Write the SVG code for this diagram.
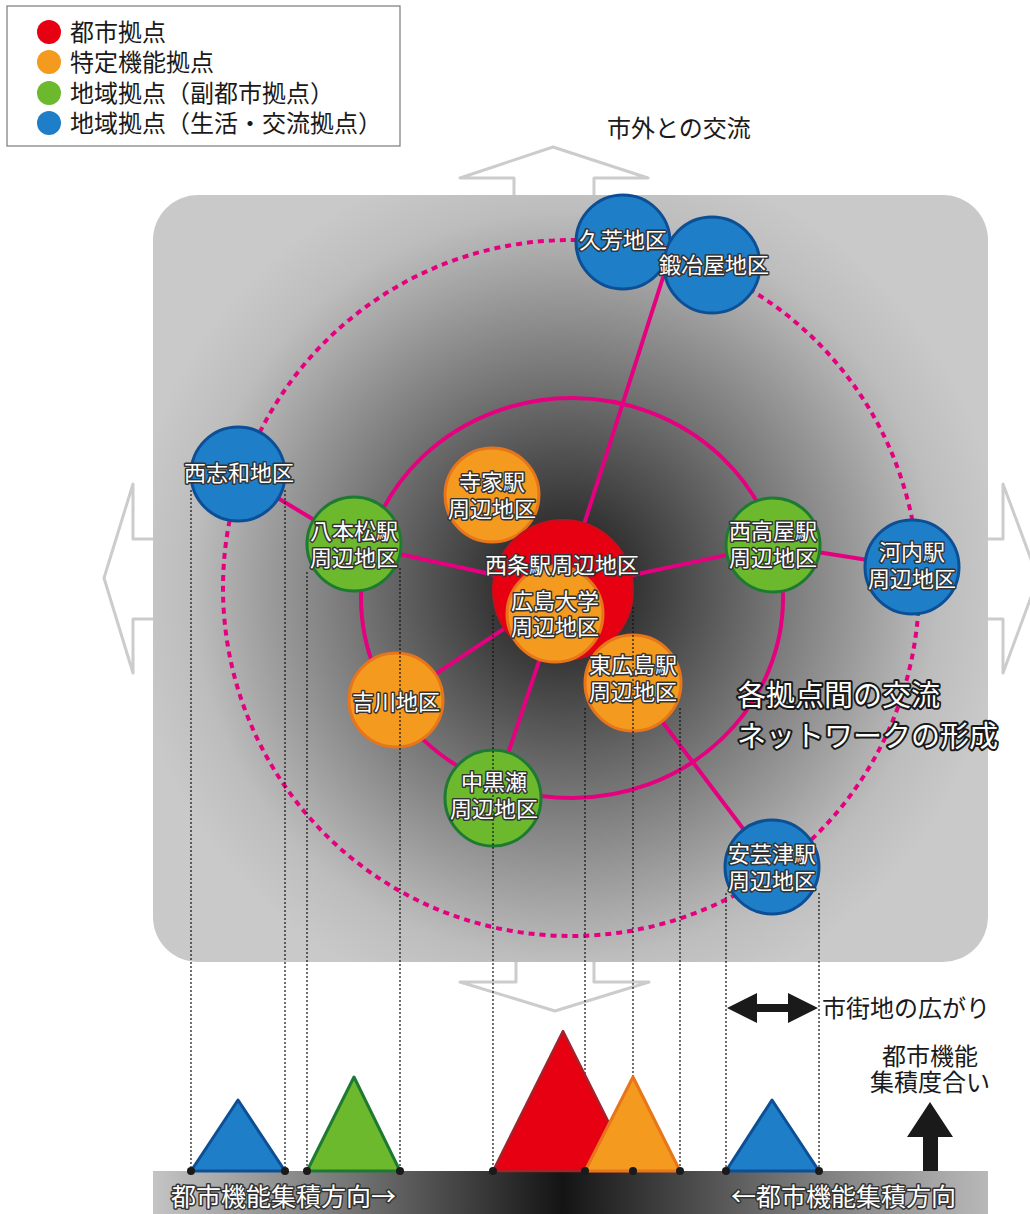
<svg xmlns="http://www.w3.org/2000/svg" width="1030" height="1214" viewBox="0 0 1030 1214">
<defs>
<radialGradient id="bg" gradientUnits="userSpaceOnUse" cx="565" cy="585" r="440">
<stop offset="0" stop-color="#262626"/>
<stop offset="0.15" stop-color="#333333"/>
<stop offset="0.5" stop-color="#7a7a7a"/>
<stop offset="0.85" stop-color="#bdbdbd"/>
<stop offset="1" stop-color="#c9c9c9"/>
</radialGradient>
<linearGradient id="bar" gradientUnits="userSpaceOnUse" x1="153" y1="0" x2="988" y2="0">
<stop offset="0" stop-color="#c4c4c4"/>
<stop offset="0.25" stop-color="#707070"/>
<stop offset="0.49" stop-color="#141414"/>
<stop offset="0.75" stop-color="#707070"/>
<stop offset="1" stop-color="#b8b8b8"/>
</linearGradient>
</defs>
<style>
.jp{font-family:"Noto Sans CJK JP","Noto Sans CJK SC",sans-serif;}
.lg{font-size:24px;fill:#1a1a1a;}
.nt{font-size:22px;fill:#ffffff;stroke:#333333;stroke-width:3;paint-order:stroke;stroke-linejoin:round;text-anchor:middle;}
.big{font-size:29px;fill:#ffffff;stroke:#1a1a1a;stroke-width:4;paint-order:stroke;stroke-linejoin:round;}
.bt{font-size:25px;fill:#ffffff;stroke:#333333;stroke-width:3;paint-order:stroke;stroke-linejoin:round;}
.bk{font-size:24px;fill:#1a1a1a;}
.blue{fill:#1e7ec8;stroke:#0d4f95;stroke-width:3;}
.green{fill:#6cb92d;stroke:#1e7a33;stroke-width:3;}
.orange{fill:#f39a1f;stroke:#e8751a;stroke-width:3;}
.red{fill:#e60012;stroke:#c4101c;stroke-width:2;}
.ol{fill:#ffffff;stroke:#cccccc;stroke-width:3;stroke-linejoin:round;}
.link{stroke:#e4007f;stroke-width:4;fill:none;}
.dot{stroke:#111111;stroke-width:1.2;stroke-dasharray:2 2;fill:none;}
</style>

<!-- direction arrows (outline) -->
<g id="arrows-out">
<polygon class="ol" points="514,200 514,178 460,178 553,147 648,178 594,178 594,200"/>
<polygon class="ol" points="516,958 516,982 460,982 555,1011 649,982 594,982 594,958"/>
<polygon class="ol" points="157,539 133,539 133,484 104,578 133,673 133,619 157,619"/>
<polygon class="ol" points="985,539 1003,539 1003,484 1038,578 1003,673 1003,619 985,619"/>
</g>

<!-- background area -->
<rect id="area" x="153" y="195" width="835" height="767" rx="45" ry="45" fill="url(#bg)"/>

<!-- legend -->
<g id="legend">
<rect x="7" y="6" width="393" height="140" fill="#ffffff" stroke="#7a7a7a" stroke-width="1.2"/>
<circle cx="49" cy="32" r="12" fill="#e60012"/>
<circle cx="49" cy="62" r="12" fill="#f39a1f"/>
<circle cx="49" cy="93" r="12" fill="#6cb92d"/>
<circle cx="49" cy="123" r="12" fill="#1e7ec8"/>
<text class="jp lg" x="70" y="41">都市拠点</text>
<text class="jp lg" x="70" y="71">特定機能拠点</text>
<text class="jp lg" x="70" y="102">地域拠点（副都市拠点）</text>
<text class="jp lg" x="70" y="132">地域拠点（生活・交流拠点）</text>
</g>

<text id="label-outside" class="jp bk" x="607" y="137">市外との交流</text>

<!-- connectors -->
<g id="connectors">
<circle class="link" cx="571" cy="588" r="348" stroke-width="6" stroke-dasharray="6 5"/>
<ellipse class="link" cx="572" cy="598" rx="211" ry="200"/>
<line class="link" x1="563" y1="590" x2="667" y2="265"/>
<line class="link" x1="238" y1="474" x2="354" y2="544"/>
<line class="link" x1="354" y1="544" x2="563" y2="590"/>
<line class="link" x1="563" y1="590" x2="773" y2="545"/>
<line class="link" x1="773" y1="545" x2="912" y2="567"/>
<line class="link" x1="563" y1="590" x2="396" y2="700"/>
<line class="link" x1="563" y1="590" x2="493" y2="798"/>
<line class="link" x1="633" y1="683" x2="772" y2="867"/>
</g>

<!-- nodes -->
<g id="n-kubo"><circle class="blue" cx="623" cy="242" r="47"/></g>
<g id="n-kajiya"><circle class="blue" cx="712" cy="265" r="48"/></g>
<g id="n-nishishiwa"><circle class="blue" cx="238" cy="474" r="47"/></g>
<g id="n-hachihonmatsu"><circle class="green" cx="354" cy="544" r="47"/></g>
<g id="n-jike"><circle class="orange" cx="492" cy="495" r="47"/></g>
<g id="n-saijo"><circle class="red" cx="563" cy="590" r="70"/></g>
<g id="n-hirodai"><circle class="orange" cx="555" cy="614" r="48"/></g>
<g id="n-higashihiroshima"><circle class="orange" cx="633" cy="683" r="48"/></g>
<g id="n-yoshikawa"><circle class="orange" cx="396" cy="700" r="47"/></g>
<g id="n-nakakurose"><circle class="green" cx="493" cy="798" r="48"/></g>
<g id="n-saijoya"><circle class="green" cx="773" cy="545" r="47"/></g>
<g id="n-kochi"><circle class="blue" cx="912" cy="567" r="47"/></g>
<g id="n-akitsu"><circle class="blue" cx="772" cy="867" r="47"/></g>

<!-- projection lines -->
<g id="projections">
<line class="dot" x1="191" y1="490" x2="191" y2="1171"/>
<line class="dot" x1="285" y1="490" x2="285" y2="1171"/>
<line class="dot" x1="307" y1="572" x2="307" y2="1171"/>
<line class="dot" x1="400" y1="568" x2="400" y2="1171"/>
<line class="dot" x1="493" y1="615" x2="493" y2="1171"/>
<line class="dot" x1="633" y1="607" x2="633" y2="1171"/>
<line class="dot" x1="585" y1="708" x2="585" y2="1171"/>
<line class="dot" x1="680" y1="708" x2="680" y2="1171"/>
<line class="dot" x1="726" y1="893" x2="726" y2="1171"/>
<line class="dot" x1="819" y1="893" x2="819" y2="1171"/>
</g>

<!-- node labels -->
<g id="node-labels" class="jp">
<text class="nt" x="623" y="248">久芳地区</text>
<text class="nt" x="714" y="273">鍛冶屋地区</text>
<text class="nt" x="239" y="481">西志和地区</text>
<text class="nt" y="539"><tspan x="354">八本松駅</tspan><tspan x="354" dy="27">周辺地区</tspan></text>
<text class="nt" y="490"><tspan x="492">寺家駅</tspan><tspan x="492" dy="27">周辺地区</tspan></text>
<text class="nt" x="562" y="573">西条駅周辺地区</text>
<text class="nt" y="609"><tspan x="555">広島大学</tspan><tspan x="555" dy="26">周辺地区</tspan></text>
<text class="nt" y="673"><tspan x="633">東広島駅</tspan><tspan x="633" dy="27">周辺地区</tspan></text>
<text class="nt" x="396" y="710">吉川地区</text>
<text class="nt" y="790"><tspan x="494">中黒瀬</tspan><tspan x="494" dy="27">周辺地区</tspan></text>
<text class="nt" y="539"><tspan x="773">西高屋駅</tspan><tspan x="773" dy="27">周辺地区</tspan></text>
<text class="nt" y="560"><tspan x="912">河内駅</tspan><tspan x="912" dy="27">周辺地区</tspan></text>
<text class="nt" y="862"><tspan x="772">安芸津駅</tspan><tspan x="772" dy="27">周辺地区</tspan></text>
</g>

<g id="network-label" class="jp">
<text class="big" y="706"><tspan x="737">各拠点間の交流</tspan><tspan x="737" dy="41">ネットワークの形成</tspan></text>
</g>

<!-- bottom profile -->
<rect id="bar" x="153" y="1171" width="835" height="43" fill="url(#bar)"/>
<g id="profile">
<polygon points="191,1171 238,1100 285,1171" fill="#1e7ec8" stroke="#0d4f95" stroke-width="3" stroke-linejoin="round"/>
<polygon points="307,1171 354,1077 400,1171" fill="#6cb92d" stroke="#1e7a33" stroke-width="3" stroke-linejoin="round"/>
<polygon points="493,1171 563,1031 633,1171" fill="#e60012" stroke="#a3232b" stroke-width="2.5" stroke-linejoin="round"/>
<polygon points="585,1171 633,1077 680,1171" fill="#f39a1f" stroke="#e8751a" stroke-width="3" stroke-linejoin="round"/>
<polygon points="726,1171 772,1100 819,1171" fill="#1e7ec8" stroke="#0d4f95" stroke-width="3" stroke-linejoin="round"/>
<g fill="#1a1a1a">
<circle cx="191" cy="1171" r="4"/><circle cx="285" cy="1171" r="4"/>
<circle cx="307" cy="1171" r="4"/><circle cx="400" cy="1171" r="4"/>
<circle cx="493" cy="1171" r="4"/><circle cx="585" cy="1171" r="4"/>
<circle cx="633" cy="1171" r="4"/><circle cx="680" cy="1171" r="4"/>
<circle cx="726" cy="1171" r="4"/><circle cx="819" cy="1171" r="4"/>
</g>
</g>

<g id="bottom-labels" class="jp">
<text class="bt" x="171" y="1206">都市機能集積方向→</text>
<text class="bt" x="731" y="1206">←都市機能集積方向</text>
<polygon points="727,1008 757,993 757,1004 788,1004 788,993 818,1008 788,1023 788,1012 757,1012 757,1023" fill="#1a1a1a"/>
<text class="bk" x="822" y="1017">市街地の広がり</text>
<text class="bk" y="1065" text-anchor="middle"><tspan x="930">都市機能</tspan><tspan x="930" dy="26">集積度合い</tspan></text>
<polygon points="930,1102 953,1137 938,1137 938,1171 923,1171 923,1137 907,1137" fill="#1a1a1a"/>
</g>
</svg>
